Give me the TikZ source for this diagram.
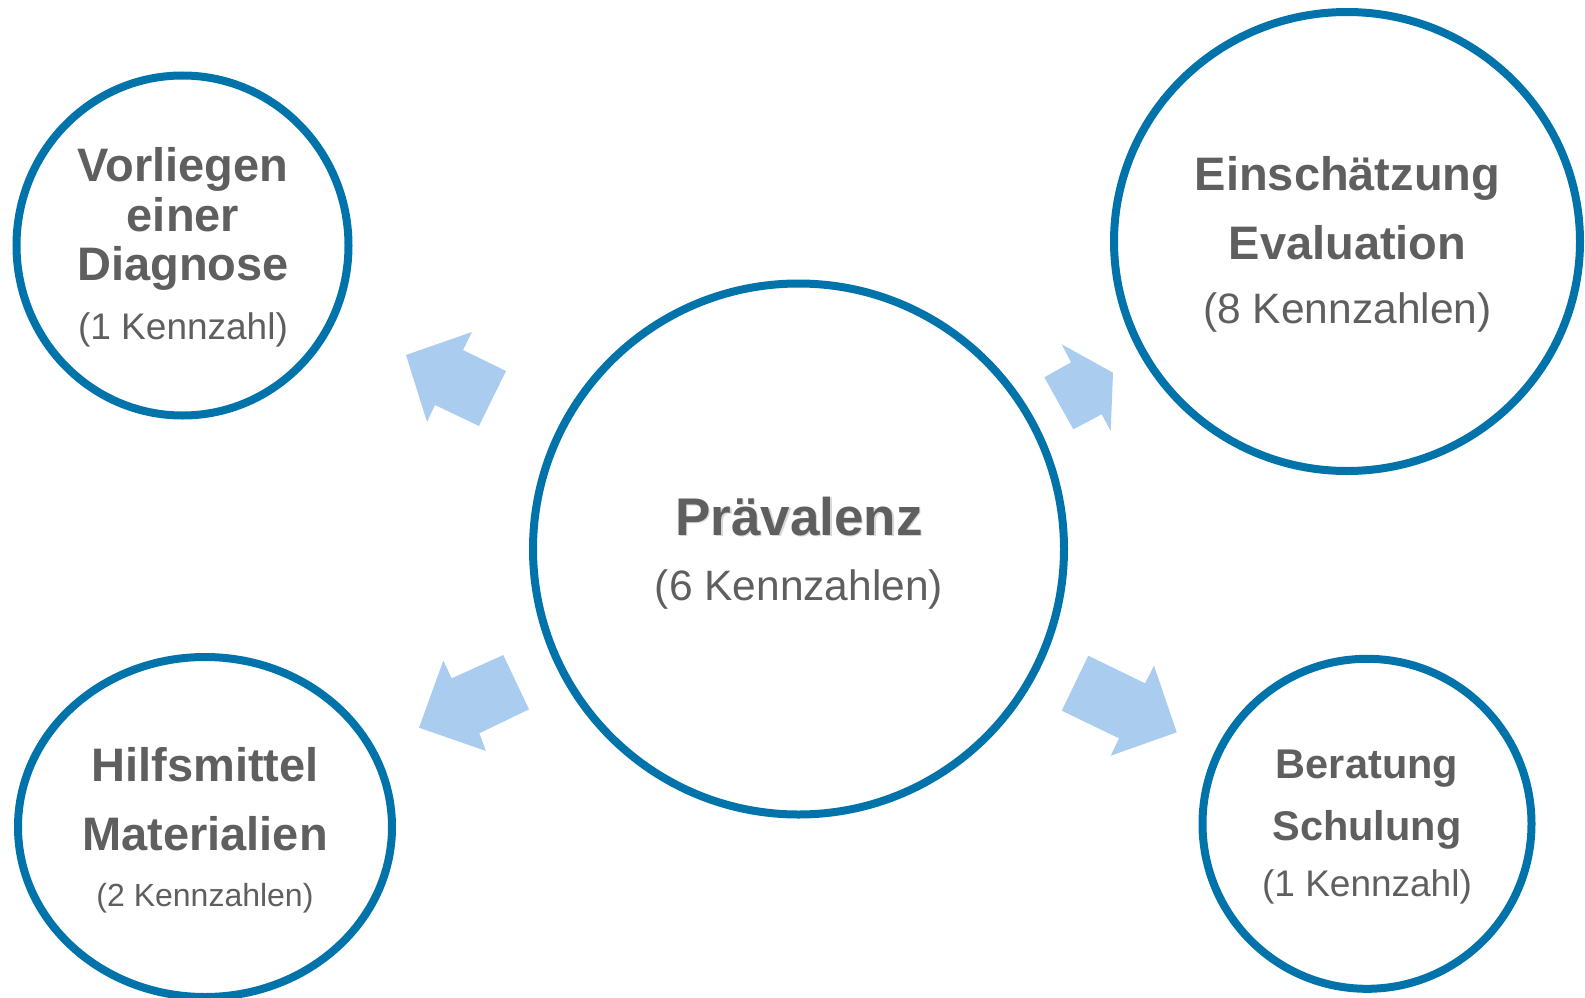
\documentclass[tikz,border=0pt]{standalone}
\usepackage{fontspec}
\setmainfont{Liberation Sans}
\usetikzlibrary{shapes.geometric}
\definecolor{ringblue}{RGB}{0,115,170}
\definecolor{arrowblue}{RGB}{170,204,238}
\definecolor{txtgray}{RGB}{95,95,95}
\definecolor{shadowgray}{RGB}{215,215,215}
\begin{document}
\begin{tikzpicture}[x=1pt,y=-1pt,
  ring/.style={draw=ringblue, line width=8pt, fill=white, ellipse, inner sep=0pt},
  blockarrow/.style={fill=arrowblue, draw=none},
  lbl/.style={anchor=base, inner sep=0pt, text=txtgray},
  headA/.style={lbl, font=\fontsize{47}{50}\selectfont\bfseries},
  headB/.style={lbl, font=\fontsize{41.5}{44}\selectfont\bfseries},
  headC/.style={lbl, font=\fontsize{53}{56}\selectfont\bfseries},
  subA/.style={lbl, font=\fontsize{37}{40}\selectfont},
  subB/.style={lbl, font=\fontsize{42.5}{45}\selectfont},
  subC/.style={lbl, font=\fontsize{32}{35}\selectfont}]
\useasboundingbox (0,0) rectangle (1585,998);

% block arrows
\fill[blockarrow] (406,355) -- (472,332) -- (463,350) -- (506,371) -- (479,426) -- (435,405) -- (427,422) -- cycle;
\fill[blockarrow] (1061.7,344.3) -- (1113,372.7) -- (1110.7,431) -- (1101.7,414.3) -- (1073.3,429.3) -- (1044.3,377.3) -- (1071,362.3) -- cycle;
\fill[blockarrow] (1088.3,655.7) -- (1145,683.3) -- (1154,665.7) -- (1176.7,732.3) -- (1110.7,755.7) -- (1119,738.3) -- (1061.7,710.7) -- cycle;
\fill[blockarrow] (503.3,655) -- (529,709.3) -- (479.3,733.3) -- (486,751) -- (419,727.7) -- (443.3,660.7) -- (451.7,678.3) -- cycle;

% circles
\node[ring, minimum width=531, minimum height=531] (prev) at (798.5,549) {};
\node[ring, minimum width=332, minimum height=340] (diag) at (182.5,245.5) {};
\node[ring, minimum width=466, minimum height=459] (eval) at (1347,241.5) {};
\node[ring, minimum width=374, minimum height=340] (hilf) at (205,827) {};
\node[ring, minimum width=329, minimum height=330] (ber) at (1367,823.8) {};

% central text
\node[headC, text=shadowgray] (prevshadow) at (800.5,536.5) {Prävalenz};
\node[headC] (prevt) at (799,535) {Prävalenz};
\node[subB] (prevs) at (799,600) {(6 Kennzahlen)};

% Vorliegen einer Diagnose
\node[headA] (diag1) at (183,181.7) {Vorliegen};
\node[headA] (diag2) at (183,231.7) {einer};
\node[headA] (diag3) at (183,280.7) {Diagnose};
\node[subA]  (diags) at (183,339.5) {(1 Kennzahl)};

% Einschaetzung Evaluation
\node[headA] (eval1) at (1347.5,190.7) {Einschätzung};
\node[headA] (eval2) at (1347.5,259.3) {Evaluation};
\node[subB]  (evals) at (1347.5,323.3) {(8 Kennzahlen)};

% Hilfsmittel Materialien
\node[headA] (hilf1) at (205,781.7) {Hilfsmittel};
\node[headA] (hilf2) at (205,850) {Materialien};
\node[subC]  (hilfs) at (205,906.7) {(2 Kennzahlen)};

% Beratung Schulung
\node[headB] (ber1) at (1367,778.3) {Beratung};
\node[headB] (ber2) at (1367,840) {Schulung};
\node[subA]  (bers) at (1367,896.7) {(1 Kennzahl)};
\end{tikzpicture}
\end{document}
